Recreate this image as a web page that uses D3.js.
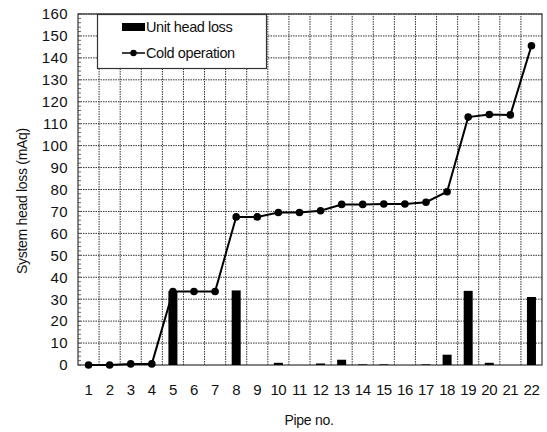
<!DOCTYPE html>
<html>
<head>
<meta charset="utf-8">
<script src="https://cdn.jsdelivr.net/npm/d3@7/dist/d3.min.js"></script>
<style>
  html, body { margin: 0; padding: 0; background: #fff; }
  svg { display: block; font-family: "Liberation Sans", Arial, sans-serif; }
</style>
</head>
<body>
<svg id="chart" width="547" height="432"></svg>
<script>
// Pipe numbers along the x axis
const pipes = ["1","2","3","4","5","6","7","8","9","10","11","12","13","14","15","16","17","18","19","20","21","22"];
// Cumulative system head loss, cold operation (mAq)
const coldOperation = [0, 0, 0.5, 0.5, 33.5, 33.5, 33.5, 67.5, 67.5, 69.5, 69.5, 70.3, 73.2, 73.2, 73.4, 73.4, 74.2, 79, 113, 114.2, 114, 145.5];
// Head loss contributed by each pipe (mAq)
const unitHeadLoss = [0, 0, 0, 0, 33.7, 0, 0, 34, 0, 1, 0, 0.7, 2.4, 0.3, 0.3, 0, 0.3, 4.7, 33.8, 1, 0, 31];
// Y axis ticks
const yTicks = [0,10,20,30,40,50,60,70,80,90,100,110,120,130,140,150,160];
const seriesNames = ["Unit head loss", "Cold operation"];

const svg = d3.select("#chart");
const m = { left: 78, right: 5, top: 14, bottom: 67 };
const W = 547, H = 432;
const x = d3.scaleBand().domain(pipes).range([m.left, W - m.right]).padding(0);
const y = d3.scaleLinear().domain([0, 160]).range([H - m.bottom, m.top]);

const g = svg.append("g");

// Grid: horizontal at each tick, vertical at category boundaries
g.append("g").selectAll("line").data(yTicks.slice(1)).join("line")
  .attr("x1", m.left).attr("x2", W - m.right)
  .attr("y1", d => y(d)).attr("y2", d => y(d))
  .attr("stroke", "#333").attr("stroke-width", 1).attr("stroke-dasharray", "1.5,1");
g.append("g").selectAll("line").data(pipes.slice(1)).join("line")
  .attr("x1", d => x(d)).attr("x2", d => x(d))
  .attr("y1", y(0)).attr("y2", y(160))
  .attr("stroke", "#333").attr("stroke-width", 1).attr("stroke-dasharray", "1.5,1");

// Plot frame
g.append("rect")
  .attr("x", m.left).attr("y", m.top)
  .attr("width", W - m.right - m.left).attr("height", y(0) - m.top)
  .attr("fill", "none").attr("stroke", "#333").attr("stroke-width", 1.2);

// Minor ticks on the y axis
g.append("g").selectAll("line").data(d3.range(0, 161, 2)).join("line")
  .attr("x1", m.left).attr("x2", m.left + 3)
  .attr("y1", d => y(d)).attr("y2", d => y(d))
  .attr("stroke", "#444").attr("stroke-width", 0.8);

// Y axis labels
const yAxis = d3.axisLeft(y).tickValues(yTicks).tickSize(0).tickPadding(10);
const ya = g.append("g").attr("transform", `translate(${m.left},0)`).call(yAxis);
ya.select(".domain").remove();
ya.selectAll("text").attr("font-size", 15).attr("fill", "#111")
  .attr("font-family", "Liberation Sans, Arial, sans-serif").attr("letter-spacing", 0.4);

// X axis labels
const xAxis = d3.axisBottom(x).tickSize(0).tickPadding(19);
const xa = g.append("g").attr("transform", `translate(0,${y(0)})`).call(xAxis);
xa.select(".domain").remove();
xa.selectAll("text").attr("font-size", 15).attr("fill", "#111")
  .attr("font-family", "Liberation Sans, Arial, sans-serif").attr("letter-spacing", -0.4);

// Bars: unit head loss
const bw = 9;
g.append("g").selectAll("rect").data(pipes.map((p, i) => ({ p, v: unitHeadLoss[i] })).filter(d => d.v > 0)).join("rect")
  .attr("x", d => x(d.p) + x.bandwidth() / 2 - bw / 2)
  .attr("width", bw)
  .attr("y", d => y(d.v))
  .attr("height", d => y(0) - y(d.v))
  .attr("fill", "#000");

// Line: cold operation
const pts = pipes.map((p, i) => ({ p, v: coldOperation[i] }));
const line = d3.line().x(d => x(d.p) + x.bandwidth() / 2).y(d => y(d.v));
g.append("path").datum(pts).attr("d", line)
  .attr("fill", "none").attr("stroke", "#000").attr("stroke-width", 2);
g.append("g").selectAll("circle").data(pts).join("circle")
  .attr("cx", d => x(d.p) + x.bandwidth() / 2).attr("cy", d => y(d.v))
  .attr("r", 3.8).attr("fill", "#000");

// Legend
const lg = g.append("g");
lg.append("rect").attr("x", 97.5).attr("y", 14.5).attr("width", 169).attr("height", 54)
  .attr("fill", "#fff").attr("stroke", "#333").attr("stroke-width", 1.2);
lg.append("rect").attr("x", 122).attr("y", 23).attr("width", 23).attr("height", 8).attr("fill", "#000");
lg.append("text").attr("x", 146).attr("y", 32).attr("font-size", 14.5).attr("fill", "#111")
  .attr("letter-spacing", -0.4).text(seriesNames[0]);
lg.append("line").attr("x1", 122).attr("x2", 145).attr("y1", 53).attr("y2", 53)
  .attr("stroke", "#000").attr("stroke-width", 1.5);
lg.append("circle").attr("cx", 133.5).attr("cy", 53).attr("r", 3.2).attr("fill", "#000");
lg.append("text").attr("x", 146).attr("y", 58).attr("font-size", 14.5).attr("fill", "#111")
  .attr("letter-spacing", -0.4).text(seriesNames[1]);

// Axis titles
svg.append("text").attr("transform", "translate(27,201) rotate(-90)")
  .attr("text-anchor", "middle").attr("font-size", 14).attr("fill", "#111")
  .attr("letter-spacing", -0.3).text("System head loss (mAq)");
svg.append("text").attr("x", 309).attr("y", 425)
  .attr("text-anchor", "middle").attr("font-size", 14).attr("fill", "#111")
  .attr("letter-spacing", -0.3).text("Pipe no.");
</script>
</body>
</html>
